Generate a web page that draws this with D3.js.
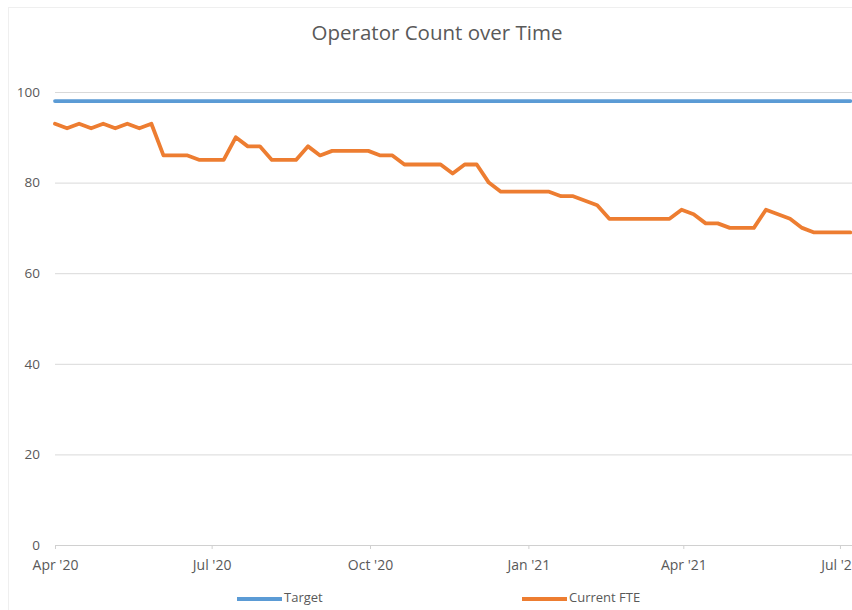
<!DOCTYPE html>
<html>
<head>
<meta charset="utf-8">
<script src="https://cdn.jsdelivr.net/npm/d3@7"></script>
<style>
  html, body { margin: 0; padding: 0; background: #ffffff; }
  svg { display: block; }
  text { font-family: "Open Sans", "Liberation Sans", sans-serif; fill: #595959; }
</style>
</head>
<body>
<svg id="chart" width="852" height="610"></svg>
<script>
// ---- data ----
const titleText = "Operator Count over Time";
const dates = [
  "2020-04-01","2020-04-08","2020-04-15","2020-04-22","2020-04-29",
  "2020-05-06","2020-05-13","2020-05-20","2020-05-27",
  "2020-06-03","2020-06-10","2020-06-17","2020-06-24",
  "2020-07-01","2020-07-08","2020-07-15","2020-07-22","2020-07-29",
  "2020-08-05","2020-08-12","2020-08-19","2020-08-26",
  "2020-09-02","2020-09-09","2020-09-16","2020-09-23","2020-09-30",
  "2020-10-07","2020-10-14","2020-10-21","2020-10-28",
  "2020-11-04","2020-11-11","2020-11-18","2020-11-25",
  "2020-12-02","2020-12-09","2020-12-16","2020-12-23","2020-12-30",
  "2021-01-06","2021-01-13","2021-01-20","2021-01-27",
  "2021-02-03","2021-02-10","2021-02-17","2021-02-24",
  "2021-03-03","2021-03-10","2021-03-17","2021-03-24","2021-03-31",
  "2021-04-07","2021-04-14","2021-04-21","2021-04-28",
  "2021-05-05","2021-05-12","2021-05-19","2021-05-26",
  "2021-06-02","2021-06-09","2021-06-16","2021-06-23","2021-06-30",
  "2021-07-07"
];
const targetValues = [
  98,98,98,98,98, 98,98,98,98, 98,98,98,98, 98,98,98,98,98,
  98,98,98,98, 98,98,98,98,98, 98,98,98,98, 98,98,98,98,
  98,98,98,98,98, 98,98,98,98, 98,98,98,98, 98,98,98,98,98,
  98,98,98,98, 98,98,98,98, 98,98,98,98,98, 98
];
const currentFTE = [
  93,92,93,92,93, 92,93,92,93, 86,86,86,85, 85,85,90,88,88,
  85,85,85,88, 86,87,87,87,87, 86,86,84,84, 84,84,82,84,
  84,80,78,78,78, 78,78,77,77, 76,75,72,72, 72,72,72,72,74,
  73,71,71,70, 70,70,74,73, 72,70,69,69,69, 69
];
const yTicks = [0, 20, 40, 60, 80, 100];
const xTickDates = ["2020-04-01","2020-07-01","2020-10-01","2021-01-01","2021-04-01","2021-07-01"];
const xDomain = ["2020-04-01","2021-07-08"];
const seriesNames = ["Target", "Current FTE"];
const seriesColors = ["#5b9bd5", "#ed7d31"];

// ---- chart ----
const parse = d3.utcParse("%Y-%m-%d");
const svg = d3.select("#chart");
const W = 852, H = 610;
const m = { left: 55, right: 0, top: 92, bottom: 65 };

// faint outer frame
svg.append("rect").attr("x", 8.5).attr("y", 7.5).attr("width", 900).attr("height", 700)
  .attr("fill", "none").attr("stroke", "#efefef");

const x = d3.scaleUtc().domain(xDomain.map(parse)).range([m.left, W - m.right]);
const y = d3.scaleLinear().domain([0, 100]).range([H - m.bottom, m.top]);

// title
svg.append("text").attr("x", 437).attr("y", 35).attr("text-anchor", "middle")
  .attr("dominant-baseline", "middle").style("font-size", "20.5px").text(titleText);

// y axis with gridlines
const yAxis = svg.append("g").attr("transform", `translate(${m.left},0)`)
  .call(d3.axisLeft(y).tickValues(yTicks).tickSize(-(W - m.left - m.right)).tickPadding(15));
yAxis.select(".domain").remove();
yAxis.selectAll(".tick line").attr("stroke", "#d9d9d9").attr("stroke-width", 1);
yAxis.selectAll(".tick text").style("font-size", "13.5px").style("font-family", "'Open Sans', sans-serif").attr("fill", "#595959");

// x axis
const xAxis = svg.append("g").attr("transform", `translate(0,${y(0)})`)
  .call(d3.axisBottom(x).tickValues(xTickDates.map(parse))
    .tickFormat(d3.utcFormat("%b '%y")).tickSizeInner(4).tickSizeOuter(0).tickPadding(11));
xAxis.select(".domain").attr("stroke", "#d0d0d0");
xAxis.selectAll(".tick line").attr("stroke", "#d0d0d0");
xAxis.selectAll(".tick text").style("font-size", "14px").style("font-family", "'Open Sans', sans-serif").attr("fill", "#595959");

// lines
const seriesData = [targetValues, currentFTE];
const line = d3.line().x(d => x(d.date)).y(d => y(d.value));
seriesData.forEach((vals, i) => {
  const pts = dates.map((d, j) => ({ date: parse(d), value: vals[j] }));
  svg.append("path").datum(pts).attr("fill", "none")
    .attr("stroke", seriesColors[i]).attr("stroke-width", 3.8)
    .attr("stroke-linejoin", "round").attr("stroke-linecap", "round")
    .attr("d", line);
});

// legend
const legendX = [237, 522];
const legend = svg.append("g");
seriesNames.forEach((name, i) => {
  legend.append("line").attr("x1", legendX[i]).attr("x2", legendX[i] + 45)
    .attr("y1", 599).attr("y2", 599).attr("stroke", seriesColors[i]).attr("stroke-width", 3.8);
  legend.append("text").attr("x", legendX[i] + 47).attr("y", 599)
    .attr("dominant-baseline", "middle").style("font-size", "13px").text(name);
});
</script>
</body>
</html>
